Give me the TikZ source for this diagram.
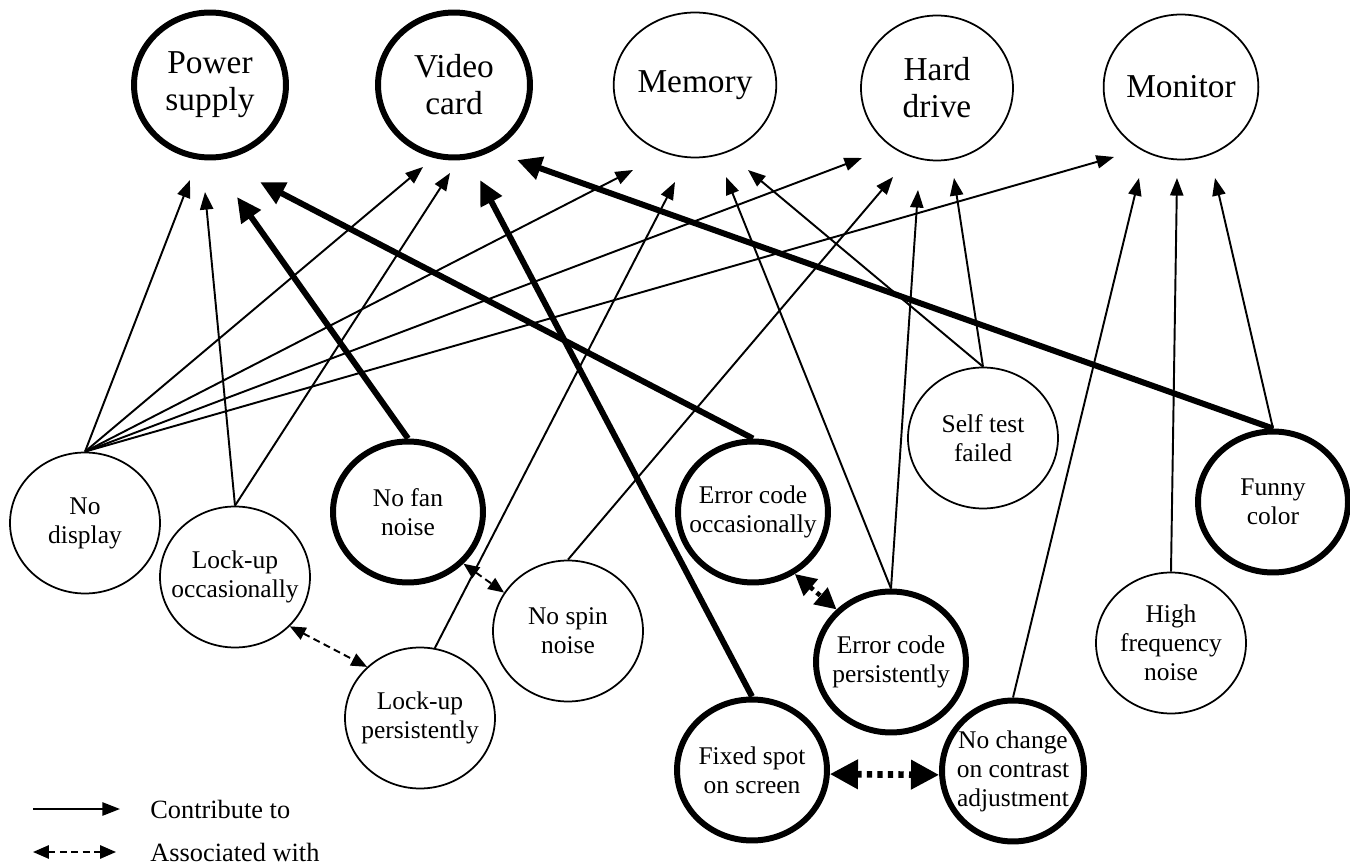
\documentclass[tikz,border=0pt]{standalone}
\usepackage{fontspec}
\setmainfont{Liberation Serif}
\usetikzlibrary{shapes.geometric,arrows.meta}
\begin{document}
\begin{tikzpicture}[x=0.02cm,y=-0.02cm,
 every node/.style={inner sep=0pt, align=center},
 comp/.style={ellipse, draw, line width=1pt, minimum width=3.04cm, minimum height=2.9cm, font=\fontsize{19}{21}\selectfont},
 compb/.style={comp, line width=3.4pt},
 symp/.style={ellipse, draw, line width=1pt, minimum width=3.0cm, minimum height=2.82cm},
 sympb/.style={symp, line width=3.4pt},
 stxt/.style={font=\fontsize{14.5}{16.5}\selectfont},
 contrib/.style={line width=1.1pt, -{Triangle[length=10pt,width=7.5pt]}},
 contribb/.style={line width=3.4pt, -{Triangle[length=14pt,width=13pt]}},
 assoc/.style={line width=1.1pt, dash pattern=on 4pt off 2.5pt, {Triangle[length=9pt,width=7.5pt]}-{Triangle[length=9pt,width=7.5pt]}},
 assocb/.style={line width=2.6pt, dash pattern=on 2.5pt off 2.5pt, {Triangle[length=12pt,width=12pt]}-{Triangle[length=12pt,width=12pt]}},
 assocbb/.style={line width=3.8pt, dash pattern=on 3pt off 3pt, {Triangle[length=16pt,width=16pt]}-{Triangle[length=16pt,width=16pt]}},
 legend/.style={anchor=west, font=\fontsize{15}{17}\selectfont}
]
\useasboundingbox (0,0) rectangle (1350,868);

% components
\node[compb] (ps)  at (210,85)  {Power\\supply};
\node[compb] (vc)  at (454,85)  {Video\\card};
\node[comp]  (mem) at (695,85)  {Memory};
\node[comp]  (hd)  at (937,88)  {Hard\\drive};
\node[comp]  (mon) at (1181,87) {Monitor};

% symptoms
\node[symp]  (nd)  at (85,523)   {};
\node[stxt]  (nd-t)  at (nd)  {No\\display};
\node[symp]  (luo) at (235,577)  {};
\node[stxt]  (luo-t) at (luo) {Lock-up\\occasionally};
\node[sympb] (nfn) at (408,512)  {};
\node[stxt]  (nfn-t) at (nfn) {No fan\\noise};
\node[symp]  (lup) at (420,718)  {};
\node[stxt]  (lup-t) at (lup) {Lock-up\\persistently};
\node[symp]  (nsn) at (568,631)  {};
\node[stxt]  (nsn-t) at (nsn) {No spin\\noise};
\node[sympb] (eco) at (753,512)  {};
\node[stxt]  (eco-t) at (eco) {Error code\\occasionally};
\node[sympb] (ecp) at (891,662)  {};
\node[stxt]  (ecp-t) at (ecp) {Error code\\persistently};
\node[symp]  (stf) at (983,438)  {};
\node[stxt]  (stf-t) at (stf) {Self test\\failed};
\node[sympb] (fc)  at (1273,502) {};
\node[stxt]  (fc-t)  at (fc)  {Funny\\color};
\node[symp]  (hf)  at (1171,643) {};
\node[stxt]  (hf-t)  at (hf)  {High\\frequency\\noise};
\node[sympb] (fs)  at (752,770)  {};
\node[stxt]  (fs-t)  at (fs)  {Fixed spot\\on screen};
\node[sympb, minimum width=2.84cm] (nc) at (1013,771) {};
\node[stxt]  (nc-t)  at (nc)  {No change\\on contrast\\adjustment};

% arrow tips below components
\coordinate (ps-a) at (190,180);
\coordinate (ps-b) at (205,192);
\coordinate (ps-c) at (237,197);
\coordinate (ps-d) at (260,182);
\coordinate (vc-a) at (423,167);
\coordinate (vc-b) at (450,173);
\coordinate (vc-c) at (480,180);
\coordinate (vc-d) at (517,160);
\coordinate (mem-a) at (633,170);
\coordinate (mem-b) at (675,182);
\coordinate (mem-c) at (726,177);
\coordinate (mem-d) at (748,170);
\coordinate (hd-a) at (862,158);
\coordinate (hd-b) at (893,177);
\coordinate (hd-c) at (918,190);
\coordinate (hd-d) at (954,178);
\coordinate (mon-a) at (1114,157);
\coordinate (mon-b) at (1139,178);
\coordinate (mon-c) at (1177,178);
\coordinate (mon-d) at (1215,178);

% contribute-to
\draw[contrib] (nd.north) -- (ps-a);
\draw[contrib] (nd.north) -- (vc-a);
\draw[contrib] (nd.north) -- (mem-a);
\draw[contrib] (nd.north) -- (hd-a);
\draw[contrib] (nd.north) -- (mon-a);
\draw[contrib] (luo.north) -- (ps-b);
\draw[contrib] (luo.north) -- (vc-b);
\draw[contrib] (lup.78) -- (mem-b);
\draw[contrib] (nsn.north) -- (hd-b);
\draw[contrib] (ecp.north) -- (mem-c);
\draw[contrib] (ecp.north) -- (hd-c);
\draw[contrib] (stf.north) -- (mem-d);
\draw[contrib] (stf.north) -- (hd-d);
\draw[contrib] (fc.north) -- (mon-d);
\draw[contrib] (nc.north) -- (mon-b);
\draw[contrib] (hf.north) -- (mon-c);
\draw[contribb] (nfn.north) -- (ps-c);
\draw[contribb] (eco.north) -- (ps-d);
\draw[contribb] (fs.north) -- (vc-c);
\draw[contribb] (fc.north) -- (vc-d);

% associated-with
\draw[assoc] (luo.-42) -- (lup.136);
\draw[assoc] (nfn.-43) -- (nsn.149);
\draw[assocb] (eco.-56) -- (ecp.136);
\draw[assocbb] (fs.-3) -- (nc.183);

% legend
\coordinate (l1a) at (33,809);
\coordinate (l1b) at (120,809);
\coordinate (l2a) at (33,852);
\coordinate (l2b) at (116,852);
\draw[contrib] (l1a) -- (l1b);
\draw[assoc] (l2a) -- (l2b);
\node[legend] (l1t) at (150,809) {Contribute to};
\node[legend] (l2t) at (150,852) {Associated with};
\end{tikzpicture}
\end{document}
